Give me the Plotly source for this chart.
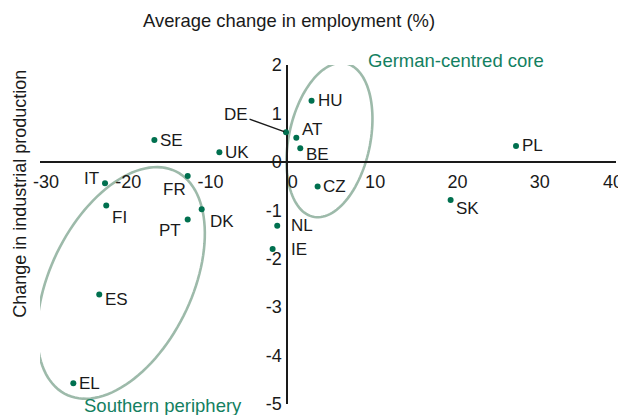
import numpy as np
import plotly.graph_objects as go

# ---------------- data ----------------
countries = ["SE", "UK", "IT", "FR", "FI", "DK", "PT", "NL", "IE", "DE",
             "HU", "AT", "BE", "CZ", "SK", "PL", "ES", "EL"]
employment_change = [-16.1, -8.2, -22.1, -12.05, -21.95, -10.35, -12.05, -1.17, -1.73, -0.1,
                     3.0, 1.15, 1.63, 3.74, 19.9, 27.85, -22.8, -25.95]
industrial_change = [0.45, 0.2, -0.44, -0.29, -0.9, -0.98, -1.19, -1.32, -1.8, 0.61,
                     1.26, 0.5, 0.28, -0.51, -0.79, 0.33, -2.74, -4.57]
x_ticks = [-30, -20, -10, 0, 10, 20, 30, 40]
y_ticks = [-5, -4, -3, -2, -1, 0, 1, 2]
x_title = "Average change in employment (%)"
y_title = "Change in industrial production"
group_names = ["German-centred core", "Southern periphery"]

# ---------------- layout geometry ----------------
# the page body adds an 8px offset; the figure is sized so the plot lands
# where it is in the reference
W, H = 618, 407
ML, MR, MT, MB = 32, 10, 57, 11
XR = [-30, 40]
YR = [-5, 2]
pxx = (W - ML - MR) / (XR[1] - XR[0])
pxy = (H - MT - MB) / (YR[1] - YR[0])

FONT = "Liberation Sans, Arial, sans-serif"
DOT = "#00704F"
GREEN_TXT = "#138061"
ELL = "#9DBAAA"
INK = "#1a1a1a"

fig = go.Figure()
fig.add_trace(go.Scatter(
    x=employment_change, y=industrial_change, mode="markers",
    marker=dict(color=DOT, size=6), hoverinfo="text", text=countries,
    showlegend=False, cliponaxis=False))
# empty trace so the overlay axis (carrying the edge tick label) is drawn
fig.add_trace(go.Scatter(x=[], y=[], xaxis="x2", yaxis="y", showlegend=False,
                         hoverinfo="skip"))

# label placement (pixel offsets relative to each dot)
placement = {
    "SE": ("left", 4, 0), "UK": ("left", 4, 0), "IT": ("right", -4, 5),
    "FR": ("center", -13, -14), "FI": ("left", 4, -12), "DK": ("left", 6, -12),
    "PT": ("right", -5, -11), "NL": ("left", 12, 0), "IE": ("left", 16, 0),
    "HU": ("left", 4, 0), "AT": ("left", 4, 8), "BE": ("left", 4, -6),
    "CZ": ("left", 3, 0), "SK": ("left", 3, -8), "PL": ("left", 4, 0),
    "ES": ("left", 4, -5), "EL": ("left", 4, 0),
}
ann = []
for c, xv, yv in zip(countries, employment_change, industrial_change):
    if c == "DE":
        ann.append(dict(x=xv, y=yv, xref="x", yref="y", text=c, showarrow=True,
                        arrowhead=0, arrowwidth=1.3, arrowcolor=INK, ax=-50, ay=-18,
                        standoff=2, font=dict(family=FONT, size=17, color=INK)))
        continue
    anc, dx, dy = placement[c]
    ann.append(dict(x=xv, y=yv, xref="x", yref="y", text=c, showarrow=False,
                    xanchor=anc, yanchor="middle", xshift=dx, yshift=dy,
                    font=dict(family=FONT, size=17, color=INK)))

# axis titles
ann.append(dict(x=0.3, y=1, xref="x", yref="paper", text=x_title, showarrow=False,
                xanchor="center", yanchor="middle", yshift=45,
                font=dict(family=FONT, size=18.4, color=INK)))
ann.append(dict(x=0, y=-0.66, xref="paper", yref="y", text=y_title, showarrow=False,
                textangle=-90, xanchor="center", yanchor="middle", xshift=-20,
                font=dict(family=FONT, size=18, color=INK)))
# group labels
ann.append(dict(x=9.6, y=1, xref="x", yref="paper", text=group_names[0], showarrow=False,
                xanchor="left", yanchor="middle", yshift=5,
                font=dict(family=FONT, size=18.5, color=GREEN_TXT)))
ann.append(dict(x=-24.9, y=0, xref="x", yref="paper", text=group_names[1], showarrow=False,
                xanchor="left", yanchor="middle", yshift=-1,
                font=dict(family=FONT, size=18.5, color=GREEN_TXT)))


def ellipse_path(cx, cy, a_px, b_px, theta_deg, n=120):
    t = np.linspace(0, 2 * np.pi, n)
    th = np.radians(theta_deg)
    ex = a_px * np.cos(t) * np.cos(th) - b_px * np.sin(t) * np.sin(th)
    ey = a_px * np.cos(t) * np.sin(th) + b_px * np.sin(t) * np.cos(th)
    xs = cx + ex / pxx
    ys = cy + ey / pxy
    pts = [f"{x:.4f},{y:.4f}" for x, y in zip(xs, ys)]
    return "M " + " L ".join(pts) + " Z"


shapes = [
    dict(type="path", xref="x", yref="y", path=ellipse_path(-20.16, -2.5, 124.3, 70.7, 63.8),
         line=dict(color=ELL, width=2.6), layer="below"),
    dict(type="path", xref="x", yref="y", path=ellipse_path(5.18, 0.45, 78.4, 40.7, 78.1),
         line=dict(color=ELL, width=2.6), layer="below"),
]

x_pos = (0 - YR[0]) / (YR[1] - YR[0])
tickfont = dict(family=FONT, size=18, color=INK)

fig.update_layout(
    width=W, height=H,
    margin=dict(l=ML, r=MR, t=MT, b=MB, pad=0, autoexpand=False),
    paper_bgcolor="white", plot_bgcolor="white",
    annotations=ann, shapes=shapes,
    xaxis=dict(range=XR, tickvals=x_ticks[:-1], ticktext=[str(v) for v in x_ticks[:-1]],
               showgrid=False, zeroline=True, zerolinecolor=INK, zerolinewidth=1.5,
               showline=False, ticks="", anchor="free", automargin=False,
               position=x_pos, tickfont=tickfont, ticklabeloverflow="allow",
               ticklabelstandoff=7, ticklabelshift=6, fixedrange=True),
    xaxis2=dict(range=XR, overlaying="x", tickvals=x_ticks[-1:],
                ticktext=[str(v) for v in x_ticks[-1:]],
                showgrid=False, zeroline=False, showline=False, ticks="",
                anchor="free", automargin=False, position=x_pos, side="bottom",
                tickfont=tickfont, ticklabeloverflow="allow",
                ticklabelstandoff=7, ticklabelshift=-3, fixedrange=True),
    yaxis=dict(range=YR, tickvals=y_ticks, ticktext=[str(v) for v in y_ticks],
               showgrid=False, zeroline=True, zerolinecolor=INK, zerolinewidth=1.5,
               showline=False, ticks="", anchor="free", automargin=False,
               position=(0 - XR[0]) / (XR[1] - XR[0]),
               tickfont=tickfont, ticklabeloverflow="allow",
               ticklabelstandoff=5, fixedrange=True),
    font=dict(family=FONT, color=INK),
)

fig.write_html("out.html")
